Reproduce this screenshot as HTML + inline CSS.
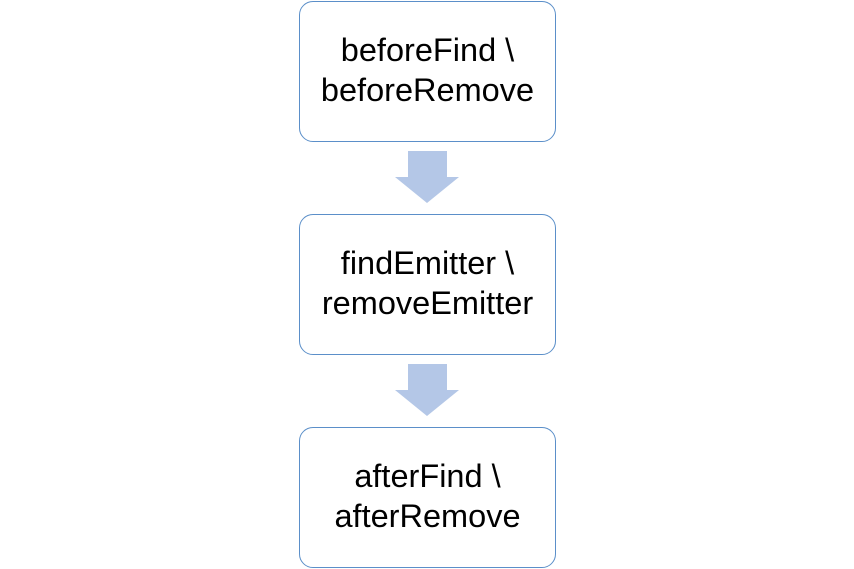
<!DOCTYPE html>
<html><head><style>
body{margin:0;width:854px;height:569px;background:#fff;position:relative;overflow:hidden;font-family:"Liberation Sans",sans-serif;}
.b{position:absolute;left:299px;width:257px;height:140px;border:1.3px solid #5b8fc9;border-radius:14px;box-sizing:border-box;display:flex;align-items:center;justify-content:center;text-align:center;font-size:32.5px;line-height:40px;color:#000;padding-bottom:3px;}
svg{position:absolute;left:0;top:0;}
</style></head><body>
<div class="b" style="top:1px;height:141px">beforeFind \<br>beforeRemove</div>
<div class="b" style="top:214px;height:141px">findEmitter \<br>removeEmitter</div>
<div class="b" style="top:427px;height:141px">afterFind \<br>afterRemove</div>
<svg width="854" height="569">
<polygon points="408,151 447,151 447,177 459,177 427,203 395,177 408,177" fill="#b4c7e7"/>
<polygon points="408,364 447,364 447,390 459,390 427,416 395,390 408,390" fill="#b4c7e7"/>
</svg>
</body></html>
